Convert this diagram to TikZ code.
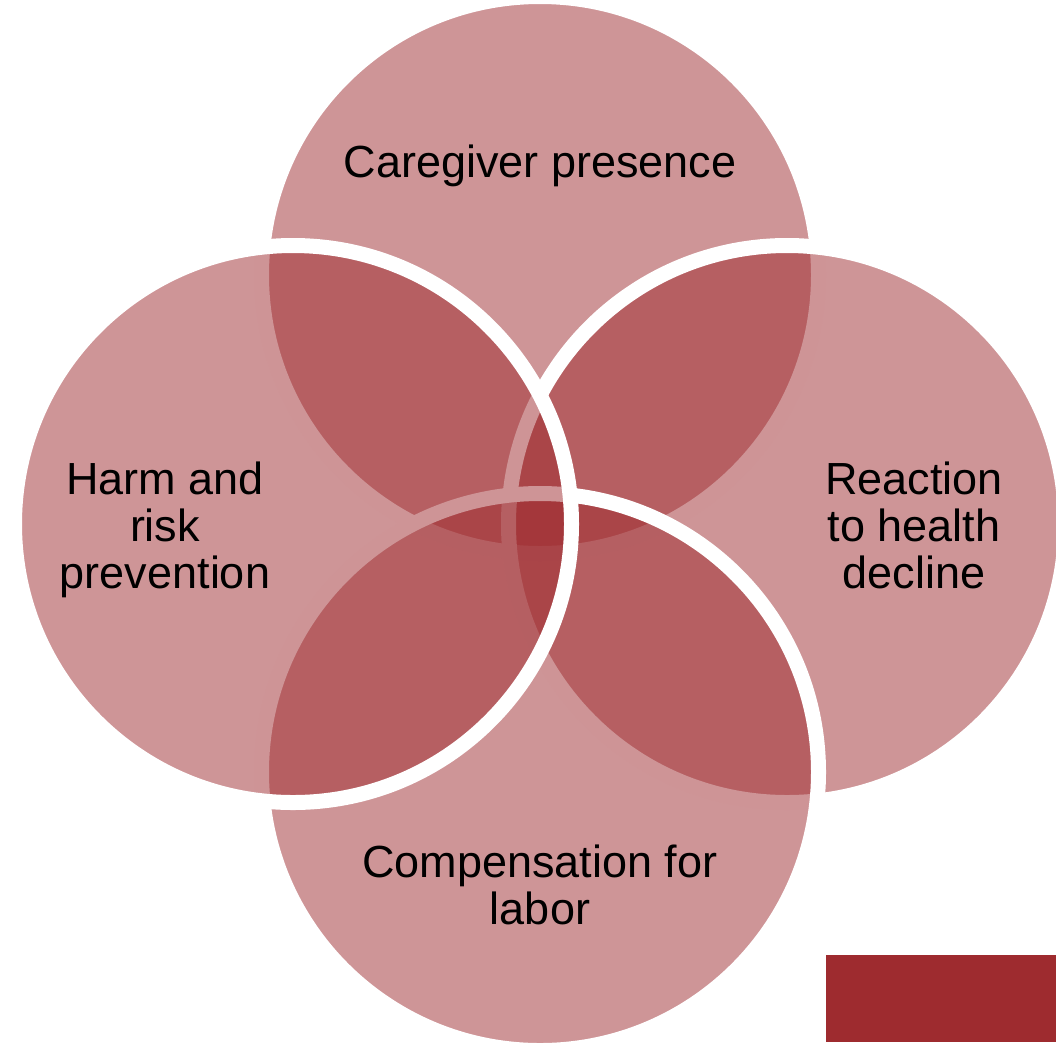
\documentclass[tikz,border=0pt]{standalone}
\usepackage{fontspec}
\setmainfont{Liberation Sans}
\definecolor{vennred}{HTML}{9E2B2F}
\tikzset{
  venn/.style={circle, minimum size=557pt, inner sep=0pt, draw=white, line width=15pt, fill=vennred, fill opacity=0.5, draw opacity=1},
  lbl/.style={text=black, align=center, inner sep=0pt, font=\fontsize{45}{47}\selectfont}
}
\begin{document}
\begin{tikzpicture}[x=1pt,y=-1pt]
\useasboundingbox (0,0) rectangle (1056,1042);
\node[venn] (top) at (540,275) {};
\node[venn] (right) at (787,524) {};
\node[venn] (bottom) at (540,772) {};
\node[venn] (left) at (293,524) {};
\node[lbl] (ttop) at (540,166) {Caregiver presence};
\node[lbl] (tleft) at (165,530) {Harm and\\risk\\prevention};
\node[lbl] (tright) at (914,525) {Reaction\\to health\\decline};
\node[lbl] (tbottom) at (540,885) {Compensation for\\labor};
\fill[vennred] (826,955) rectangle (1056,1042) coordinate (box);
\end{tikzpicture}
\end{document}
